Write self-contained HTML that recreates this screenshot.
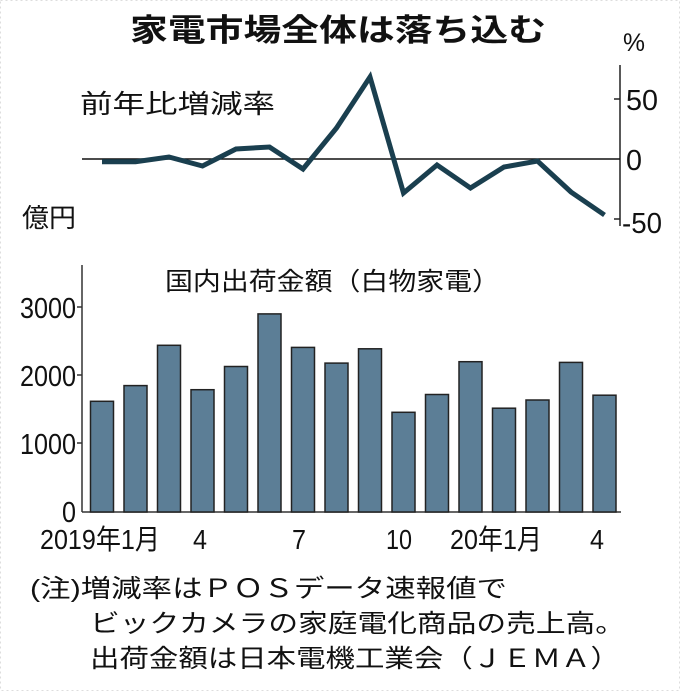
<!DOCTYPE html>
<html><head><meta charset="utf-8"><style>
body{margin:0;background:#fff}
svg{display:block}
text{font-family:"Liberation Sans","Noto Sans CJK JP",sans-serif;fill:#111}
</style></head><body>
<svg width="680" height="691" viewBox="0 0 680 691">
<rect x="0.5" y="0.5" width="679" height="690" fill="#fff" stroke="#ddd" stroke-dasharray="2,3"/>
<text x="130" y="41" font-size="31" font-weight="bold" textLength="416" lengthAdjust="spacingAndGlyphs">家電市場全体は落ち込む</text>
<text x="623" y="51" font-size="25" textLength="22" lengthAdjust="spacingAndGlyphs">%</text>
<text x="80" y="113" font-size="26" textLength="195" lengthAdjust="spacingAndGlyphs">前年比増減率</text>
<text x="22" y="227" font-size="26" textLength="54" lengthAdjust="spacingAndGlyphs">億円</text>
<line x1="620" y1="65" x2="620" y2="226" stroke="#222" stroke-width="1.5"/>
<line x1="82" y1="159" x2="620" y2="159" stroke="#111" stroke-width="1.5"/>
<line x1="614" y1="99" x2="620" y2="99" stroke="#222" stroke-width="1.5"/>
<line x1="614" y1="219" x2="620" y2="219" stroke="#222" stroke-width="1.5"/>
<g font-size="29">
<text x="626" y="110" textLength="32" lengthAdjust="spacingAndGlyphs">50</text>
<text x="626" y="170" textLength="16" lengthAdjust="spacingAndGlyphs">0</text>
<text x="622" y="233" textLength="40" lengthAdjust="spacingAndGlyphs">-50</text>
</g>
<polyline fill="none" stroke="#1a3f4f" stroke-width="5" points="102,161.7 135.5,161.7 169,157 202.5,166 236,149 269.5,147 303,169 336.5,128 370,77 403.5,193 437,165 470.5,188 504,167 537.5,161 571,192 604.5,215"/>
<text x="165" y="290" font-size="25" textLength="335" lengthAdjust="spacingAndGlyphs">国内出荷金額（白物家電）</text>
<line x1="82" y1="265" x2="82" y2="512" stroke="#333" stroke-width="1.5"/>
<line x1="82" y1="512" x2="621" y2="512" stroke="#333" stroke-width="1.5"/>
<g stroke="#333" stroke-width="1.5">
<line x1="77" y1="307" x2="82" y2="307"/><line x1="77" y1="375" x2="82" y2="375"/><line x1="77" y1="443" x2="82" y2="443"/>
</g>
<g font-size="29" text-anchor="end">
<text x="76" y="318" textLength="56" lengthAdjust="spacingAndGlyphs">3000</text>
<text x="76" y="386" textLength="56" lengthAdjust="spacingAndGlyphs">2000</text>
<text x="76" y="454" textLength="56" lengthAdjust="spacingAndGlyphs">1000</text>
<text x="76" y="522" textLength="14" lengthAdjust="spacingAndGlyphs">0</text>
</g>
<g fill="#5c7e96" stroke="#222" stroke-width="1.5">
<rect x="90.5" y="401.3" width="23" height="110.7"/>
<rect x="124" y="385.6" width="23" height="126.4"/>
<rect x="157.5" y="345.3" width="23" height="166.7"/>
<rect x="191" y="389.7" width="23" height="122.3"/>
<rect x="224.5" y="366.5" width="23" height="145.5"/>
<rect x="258" y="313.9" width="23" height="198.1"/>
<rect x="291.5" y="347.4" width="23" height="164.6"/>
<rect x="325" y="363.1" width="23" height="148.9"/>
<rect x="358.5" y="348.8" width="23" height="163.2"/>
<rect x="392" y="412.3" width="23" height="99.7"/>
<rect x="425.5" y="394.5" width="23" height="117.5"/>
<rect x="459" y="361.7" width="23" height="150.3"/>
<rect x="492.5" y="408.2" width="23" height="103.8"/>
<rect x="526" y="400" width="23" height="112"/>
<rect x="559.5" y="362.4" width="23" height="149.6"/>
<rect x="593" y="395.2" width="23" height="116.8"/>
</g>
<g font-size="28">
<text x="40" y="549" textLength="120" lengthAdjust="spacingAndGlyphs">2019年1月</text>
<text x="193" y="549" textLength="14" lengthAdjust="spacingAndGlyphs">4</text>
<text x="292" y="549" textLength="14" lengthAdjust="spacingAndGlyphs">7</text>
<text x="386" y="549" textLength="26" lengthAdjust="spacingAndGlyphs">10</text>
<text x="450" y="549" textLength="92" lengthAdjust="spacingAndGlyphs">20年1月</text>
<text x="590" y="549" textLength="14" lengthAdjust="spacingAndGlyphs">4</text>
</g>
<g font-size="25">
<text x="30" y="597" textLength="477" lengthAdjust="spacingAndGlyphs">(注)増減率はＰＯＳデータ速報値で</text>
<text x="90" y="632" textLength="535" lengthAdjust="spacingAndGlyphs">ビックカメラの家庭電化商品の売上高。</text>
<text x="90" y="667" textLength="530" lengthAdjust="spacingAndGlyphs">出荷金額は日本電機工業会（ＪＥＭＡ）</text>
</g>
</svg>
</body></html>
